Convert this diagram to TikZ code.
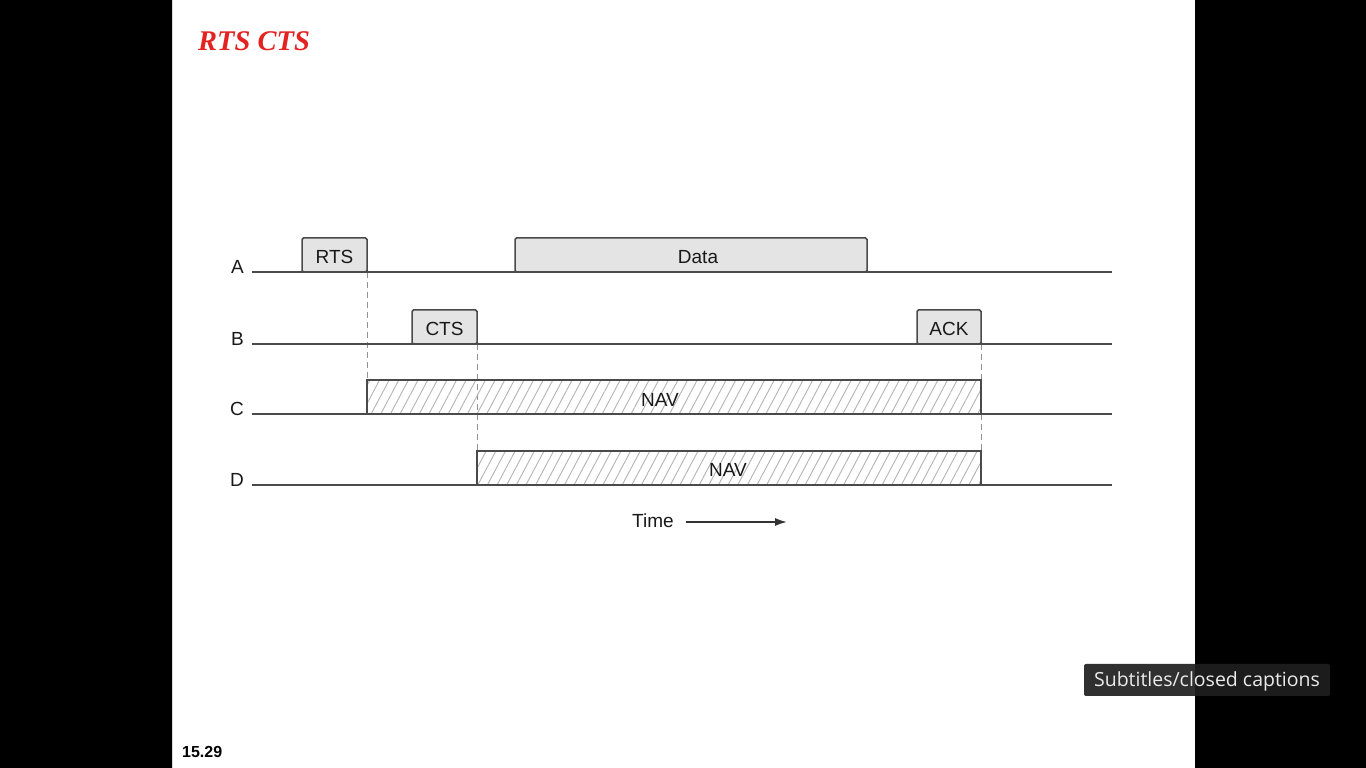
\documentclass[tikz,border=0pt]{standalone}
\usepackage{fontspec}
\setmainfont{Liberation Sans}
\newfontfamily\titlefont{Liberation Serif}
\newfontfamily\capfont{Open Sans}
\usetikzlibrary{patterns.meta,arrows.meta}
\definecolor{ink}{HTML}{4A4A4A}
\definecolor{pktfill}{HTML}{E4E4E4}
\definecolor{hatch}{HTML}{B4B4B4}
\definecolor{titlered}{HTML}{E32222}
\tikzset{
  every picture/.style={x=1pt,y=1pt},
  pkt/.style={draw=ink, line width=1.5pt, fill=pktfill, rounded corners=1.5pt,
    anchor=south west, inner sep=0pt, outer sep=0pt, minimum height=34pt,
    text height=17.5pt, text depth=0pt,
    font=\fontsize{19}{21}\selectfont, text=black!90},
  nav/.style={draw=ink, line width=1.5pt, anchor=south west, inner sep=0pt, outer sep=0pt,
    minimum height=34pt,
    pattern={Lines[angle=62,distance=8.5pt,line width=0.9pt]}, pattern color=hatch},
  navtext/.style={font=\fontsize{19}{21}\selectfont, text=black!90, inner sep=0pt},
  timeline/.style={draw=ink, line width=1.4pt},
  guide/.style={draw=ink!60, line width=0.9pt, dash pattern=on 6pt off 4pt},
  lbl/.style={font=\fontsize{19}{21}\selectfont, text=black!90, inner sep=0pt, anchor=base east},
}
\begin{document}
\begin{tikzpicture}
\useasboundingbox (0,0) rectangle (1366,768);
% frame: dark surround and the white slide
\fill[black] (0,0) rectangle (1366,768);
\fill[white] (172,0) rectangle (1195,768);
\draw[black!15, line width=0.8pt] (172.4,0) -- (172.4,768);

% slide title and page number
\node[anchor=base west, inner sep=0pt, text=titlered,
  font=\titlefont\bfseries\itshape\fontsize{28.5}{30}\selectfont] (title) at (198,717) {RTS CTS};
\node[anchor=base west, inner sep=0pt, font=\bfseries\fontsize{16}{18}\selectfont] (page) at (182,10) {15.29};

% station time lines
\coordinate (A0) at (252,496); \coordinate (A1) at (1112,496);
\coordinate (B0) at (252,424); \coordinate (B1) at (1112,424);
\coordinate (C0) at (252,354); \coordinate (C1) at (1112,354);
\coordinate (D0) at (252,283); \coordinate (D1) at (1112,283);

% dashed timing guides (behind the frames)
\coordinate (g1) at (367,496); \coordinate (g1e) at (367,388);
\coordinate (g2) at (477,424); \coordinate (g2e) at (477,317);
\coordinate (g3) at (981,424); \coordinate (g3e) at (981,317);
\draw[guide] (g1) -- (g1e);
\draw[guide] (g2) -- (g2e);
\draw[guide] (g3) -- (g3e);

% NAV periods
\node[nav, minimum width=614pt] (navC) at (367,354) {};
\node[navtext] (navCt) at (660,368) {NAV};
\node[nav, minimum width=504pt] (navD) at (477,283) {};
\node[navtext] (navDt) at (728,298) {NAV};

% frames
\node[pkt, minimum width=65pt] (rts) at (302,496) {RTS};
\node[pkt, minimum width=352pt] (data) at (515,496) {\hspace*{14pt}Data};
\node[pkt, minimum width=65pt] (cts) at (412,424) {CTS};
\node[pkt, minimum width=64pt] (ack) at (917,424) {ACK};

\draw[timeline] (A0) -- (A1);
\draw[timeline] (B0) -- (B1);
\draw[timeline] (C0) -- (C1);
\draw[timeline] (D0) -- (D1);

% station labels
\node[lbl] (la) at ([xshift=-8pt,yshift=-1.5pt]A0) {A};
\node[lbl] (lb) at ([xshift=-8pt,yshift=-1.5pt]B0) {B};
\node[lbl] (lc) at ([xshift=-8pt,yshift=-1.5pt]C0) {C};
\node[lbl] (ld) at ([xshift=-8pt,yshift=-1.5pt]D0) {D};

% time axis
\node[navtext, anchor=base west] (time) at (632,240) {Time};
\coordinate (t0) at (686,246); \coordinate (t1) at (787,246);
\draw[draw=black!80, line width=1.6pt, -{Latex[length=12pt,width=8pt]}] (t0) -- (t1);

% caption button
\fill[black!88, opacity=0.92, rounded corners=2pt] (1084,72) rectangle (1330,104);
\node[anchor=base, inner sep=0pt, text=white!92!black,
  font=\capfont\fontsize{19.5}{21}\selectfont] (cc) at (1207,81) {Subtitles/closed captions};
\end{tikzpicture}
\end{document}
